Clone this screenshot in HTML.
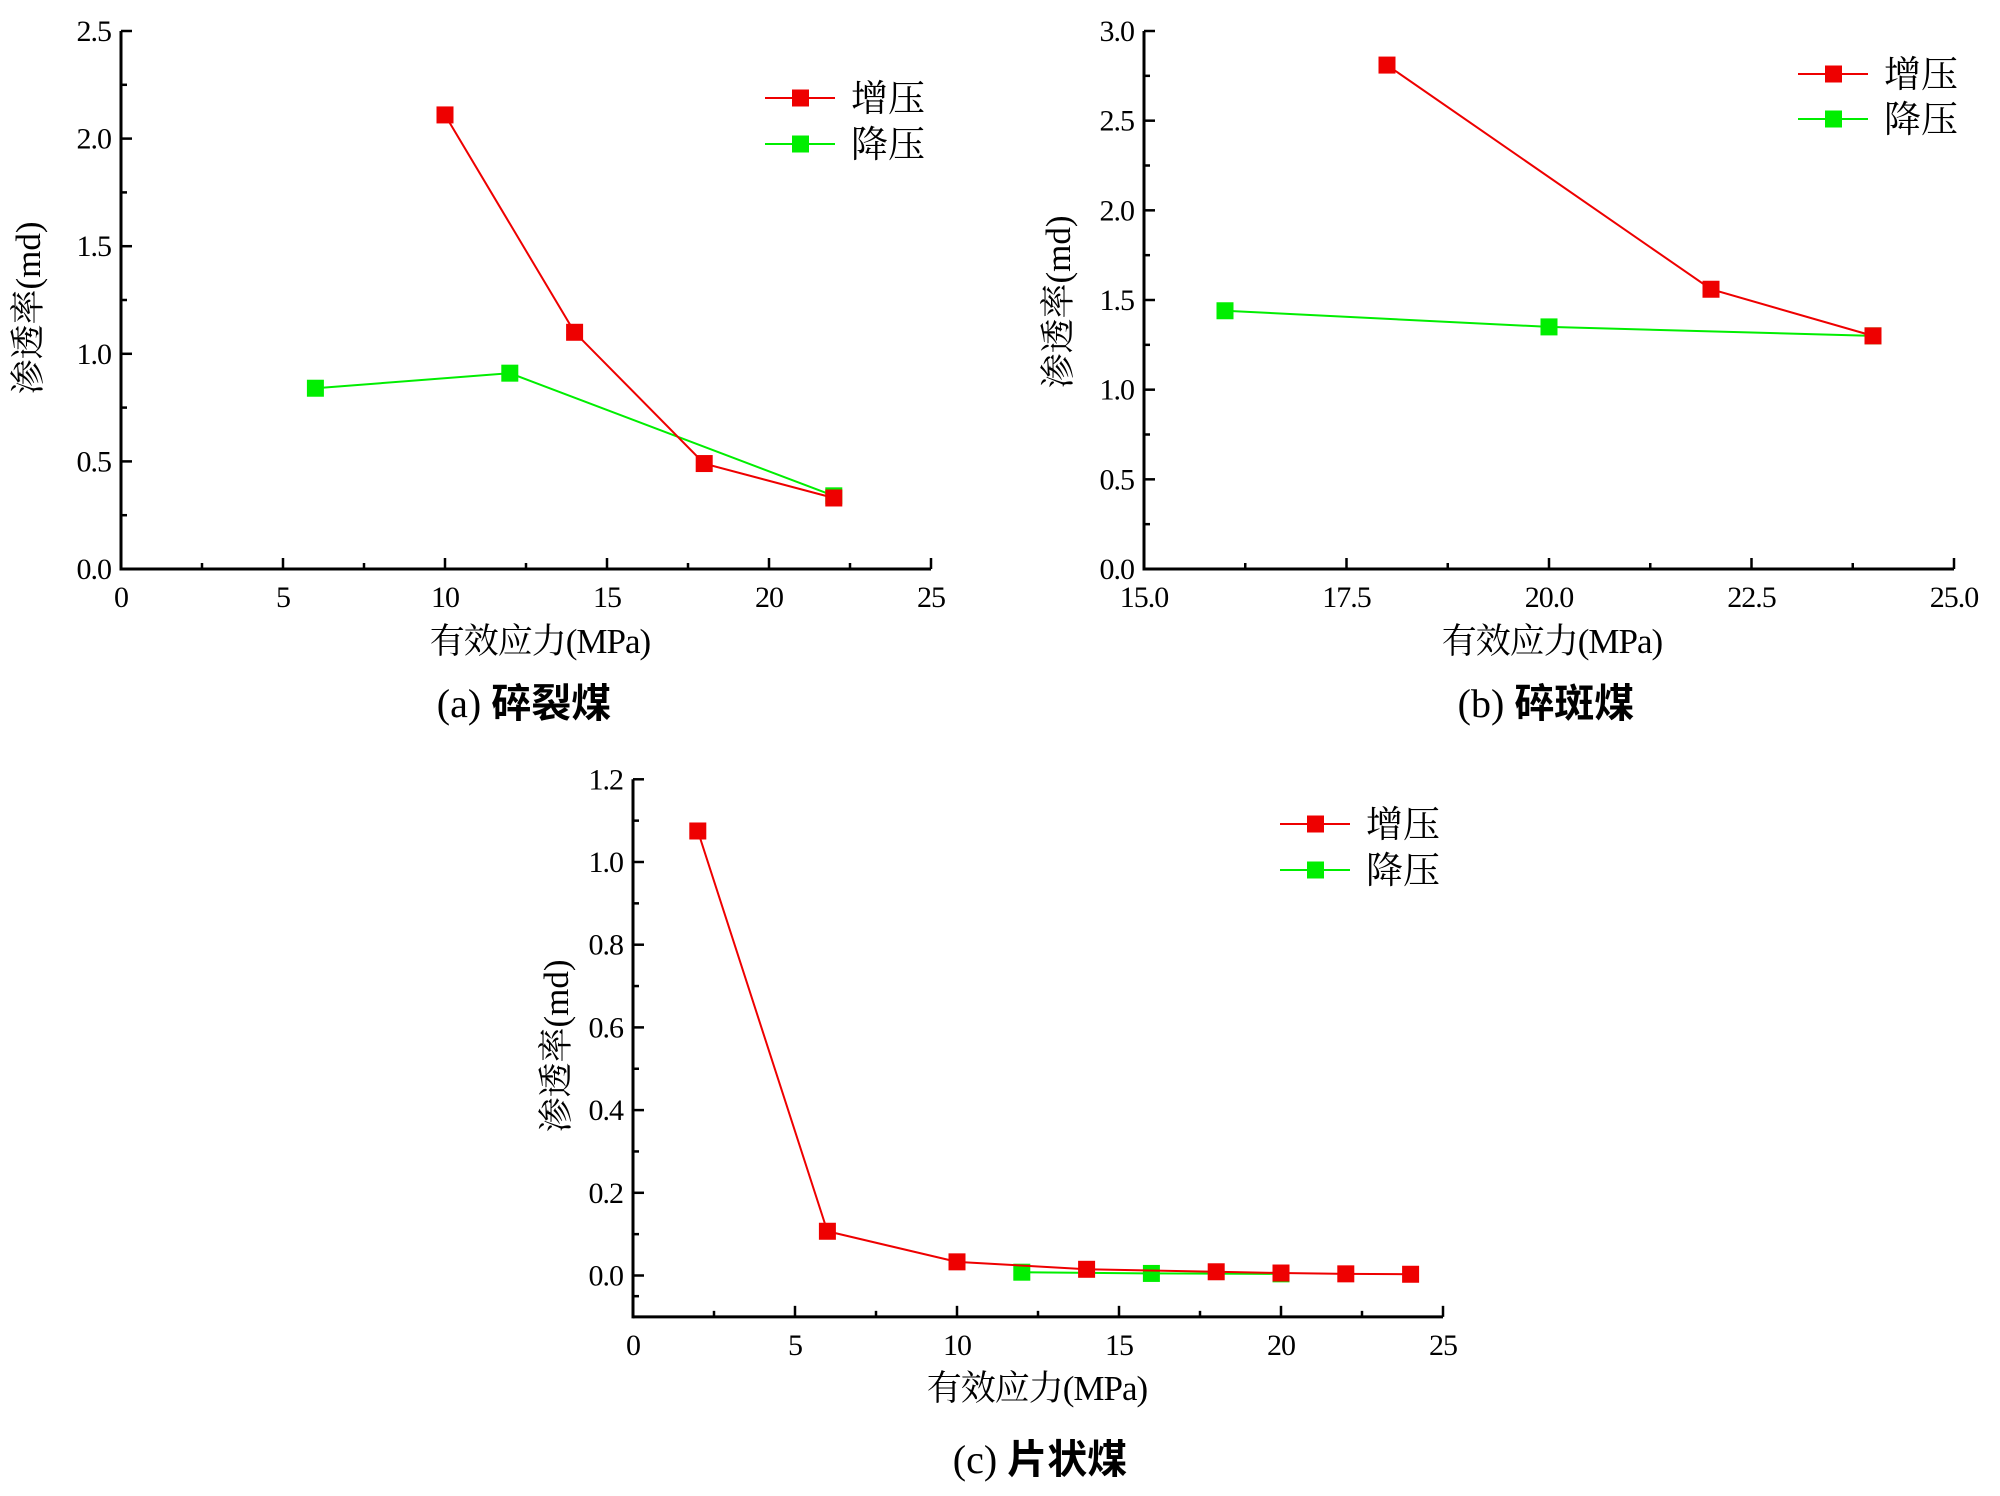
<!DOCTYPE html>
<html><head><meta charset="utf-8"><style>
html,body{margin:0;padding:0;background:#fff;}
svg{display:block;}
text{font-family:"Liberation Serif","Noto Serif CJK SC",serif;fill:#000;}
</style></head><body>
<svg id="s" width="2000" height="1496" viewBox="0 0 2000 1496" xmlns="http://www.w3.org/2000/svg"></svg>
<script>
const s=document.getElementById('s');let h='';
function panel(p){
 const X=v=>p.x0+(v-p.xmin)/(p.xmax-p.xmin)*(p.x1-p.x0);
 const Y=v=>p.y0+(v-p.ymin)/(p.ymax-p.ymin)*(p.y1-p.y0);
 const yb=Y(p.ybot);
 h+=`<line x1="${p.x0}" y1="${yb}" x2="${p.x1}" y2="${yb}" stroke="#000" stroke-width="3"/>`;
 h+=`<line x1="${p.x0}" y1="${yb+1.5}" x2="${p.x0}" y2="${p.y1}" stroke="#000" stroke-width="3"/>`;
 for(let i=0;i<=p.xn*2;i++){const v=p.xmin+i*(p.xmax-p.xmin)/(p.xn*2);const x=X(v);const maj=i%2==0;
  h+=`<line x1="${x}" y1="${yb}" x2="${x}" y2="${yb-(maj?11:6)}" stroke="#000" stroke-width="2.5"/>`;
  if(maj)h+=`<text x="${x}" y="${yb+38}" font-size="30" letter-spacing="-1" text-anchor="middle">${v.toFixed(p.xd)}</text>`;}
 for(let i=0;i<=p.yn*2;i++){const v=p.ymin+i*(p.ymax-p.ymin)/(p.yn*2);const y=Y(v);const maj=i%2==0;
  h+=`<line x1="${p.x0}" y1="${y}" x2="${p.x0+(maj?11:6)}" y2="${y}" stroke="#000" stroke-width="2.5"/>`;
  if(maj)h+=`<text x="${p.x0-10}" y="${y+10}" font-size="30" letter-spacing="-1" text-anchor="end">${v.toFixed(1)}</text>`;}
 if(p.extraMinor){const y=Y(-0.05);h+=`<line x1="${p.x0}" y1="${y}" x2="${p.x0+6}" y2="${y}" stroke="#000" stroke-width="2.5"/>`;}
 for(const [d,c] of [[p.g,'#00ee00'],[p.r,'#ee0000']]){
  h+=`<polyline fill="none" stroke="${c}" stroke-width="2" points="${d.map(q=>X(q[0])+','+Y(q[1])).join(' ')}"/>`;
  for(const q of d)h+=`<rect x="${X(q[0])-8.5}" y="${Y(q[1])-8.5}" width="17" height="17" fill="${c}"/>`;
 }
 [[p.ly1,'#ee0000','增压'],[p.ly2,'#00ee00','降压']].forEach(([y,c,t])=>{
  h+=`<line x1="${p.lx}" y1="${y}" x2="${p.lx+70}" y2="${y}" stroke="${c}" stroke-width="2"/>`;
  h+=`<rect x="${p.lx+27}" y="${y-8.5}" width="17" height="17" fill="${c}"/>`;
  h+=`<text x="${p.lx+86}" y="${y+13}" font-size="37">${t}</text>`;});
 h+=`<text transform="translate(${p.ylx},${p.yly}) rotate(-90)" font-size="35" text-anchor="middle">渗透率(md)</text>`;
 h+=`<text x="${p.tx}" y="${p.ty}" font-size="35" letter-spacing="-1" text-anchor="middle">有效应力(MPa)</text>`;
 h+=`<text x="${p.cx}" y="${p.cy}" font-size="40" text-anchor="middle">${p.cap}<tspan font-family="Liberation Sans,Noto Sans CJK SC,sans-serif" font-weight="bold">${p.capc}</tspan></text>`;
}
panel({x0:121,x1:931,xmin:0,xmax:25,xn:5,xd:0,y0:569,y1:31,ymin:0,ymax:2.5,yn:5,ybot:0,
 r:[[10,2.11],[14,1.10],[18,0.49],[22,0.33]],g:[[6,0.84],[12,0.91],[22,0.34]],
 lx:765,ly1:98,ly2:144,ylx:40,yly:308,tx:540,ty:653,cx:524,cy:717,cap:'(a) ',capc:'碎裂煤'});
panel({x0:1144,x1:1954,xmin:15,xmax:25,xn:4,xd:1,y0:569,y1:31,ymin:0,ymax:3,yn:6,ybot:0,
 r:[[18,2.81],[22,1.56],[24,1.30]],g:[[16,1.44],[20,1.35],[24,1.30]],
 lx:1798,ly1:74,ly2:119,ylx:1070,yly:302,tx:1552,ty:653,cx:1546,cy:717,cap:'(b) ',capc:'碎斑煤'});
panel({x0:633,x1:1443,xmin:0,xmax:25,xn:5,xd:0,y0:1275.5,y1:779.3,ymin:0,ymax:1.2,yn:6,ybot:-0.1,extraMinor:true,
 r:[[2,1.075],[6,0.107],[10,0.033],[14,0.015],[18,0.009],[20,0.006],[22,0.004],[24,0.003]],g:[[12,0.008],[16,0.005],[20,0.004]],
 lx:1280,ly1:824,ly2:870,ylx:568,yly:1046,tx:1037,ty:1400,cx:1040,cy:1473,cap:'(c) ',capc:'片状煤'});
s.innerHTML=h;
</script>
</body></html>
